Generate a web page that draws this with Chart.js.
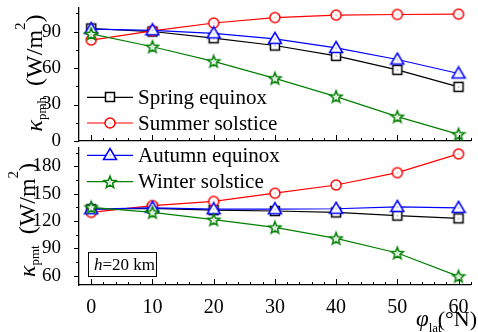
<!DOCTYPE html>
<html>
<head>
<meta charset="utf-8">
<script src="https://cdn.jsdelivr.net/npm/chart.js@4.4.0/dist/chart.umd.min.js"></script>
<style>
  html, body { margin: 0; padding: 0; background: #fff; }
  #wrap { position: relative; width: 478px; height: 332px; overflow: hidden; }
  #wrap canvas { position: absolute; left: 0; top: 0; }
</style>
</head>
<body>
<div id="wrap">
  <canvas id="bottomChart" width="478" height="332"></canvas>
  <canvas id="topChart" width="478" height="332"></canvas>
</div>
<script>
// latitude (°N)
const latitudes = [0, 10, 20, 30, 40, 50, 60];
const seasons = ["Spring equinox", "Summer solstice", "Autumn equinox", "Winter solstice"];

// kappa_pmh (W/m2), top panel
const pmhSpring = [92.5, 90, 84.5, 78.5, 70, 58.5, 44.5];
const pmhSummer = [83, 90.5, 97, 101.5, 103.5, 104, 104.3];
const pmhAutumn = [92, 91, 88.5, 84, 76.5, 67, 55.5];
const pmhWinter = [88, 77.5, 65.5, 51.5, 36.5, 20, 5.5];

// kappa_pmt (W/m2), bottom panel
const pmtSpring = [133, 134, 132, 131, 129.5, 126, 123];
const pmtSummer = [129.5, 137, 141.5, 150.5, 159.5, 173, 193.5];
const pmtAutumn = [133, 134.5, 133, 133, 133.5, 135.5, 134.5];
const pmtWinter = [135, 129.5, 121.5, 113, 101, 85, 59.5];

const xTicks = [0, 10, 20, 30, 40, 50, 60];
const pmhTicks = [0, 30, 60, 90];
const pmtTicks = [60, 90, 120, 150, 180];

const FONT = "'Liberation Serif', 'Times New Roman', serif";
Chart.defaults.font.family = FONT;
Chart.defaults.color = "#000";

const colors = ["#000000", "#ff0000", "#0000ff", "#008000"];
const shapes = ["square", "circle", "triangle", "star"];

function makeMarker(shape, color) {
  const c = document.createElement("canvas");
  c.width = 16; c.height = 16;
  const g = c.getContext("2d");
  g.strokeStyle = color;
  g.fillStyle = "#fff";
  g.lineWidth = 1.5;
  g.beginPath();
  if (shape === "square") {
    g.rect(3.5, 3.5, 9, 9);
  } else if (shape === "circle") {
    g.arc(8, 8, 5, 0, Math.PI * 2);
  } else if (shape === "triangle") {
    g.moveTo(8, 1.5); g.lineTo(14.5, 12.5); g.lineTo(1.5, 12.5); g.closePath();
  } else {
    for (let i = 0; i < 10; i++) {
      const r = i % 2 ? 2.7 : 6.3;
      const a = -Math.PI / 2 + i * Math.PI / 5;
      const px = 8 + r * Math.cos(a), py = 8.5 + r * Math.sin(a);
      i ? g.lineTo(px, py) : g.moveTo(px, py);
    }
    g.closePath();
  }
  g.fill();
  g.stroke();
  g.globalAlpha = 0.5;
  g.fillStyle = color;
  g.fillRect(7.5, 7.5, 1.2, 1.2);
  return c;
}
const markers = shapes.map((s, i) => makeMarker(s, colors[i]));

function makeSets(series) {
  return series.map((vals, i) => ({
    label: seasons[i],
    data: latitudes.map((x, j) => ({ x: x, y: vals[j] })),
    borderColor: colors[i],
    borderWidth: 1.2,
    pointStyle: markers[i],
    pointRadius: 6,
    tension: 0,
    clip: false,
    order: 3 - i
  }));
}

function drawYTitle(ctx, sub, bx, cy) {
  const parts = [
    { t: "κ", f: "italic 24px " + FONT, dy: 0, gap: 0 },
    { t: sub, f: "13px " + FONT, dy: 4, gap: 0 },
    { t: "(W/m", f: "24px " + FONT, dy: 0, gap: 11 },
    { t: "2", f: "15px " + FONT, dy: -17, gap: 0 },
    { t: ")", f: "24px " + FONT, dy: 0, gap: 0 }
  ];
  let total = 0;
  parts.forEach(p => { ctx.font = p.f; total += p.gap + ctx.measureText(p.t).width; });
  ctx.save();
  ctx.translate(bx, cy);
  ctx.rotate(-Math.PI / 2);
  ctx.fillStyle = "#000";
  ctx.textBaseline = "alphabetic";
  let x = -total / 2;
  parts.forEach(p => {
    ctx.font = p.f;
    x += p.gap;
    ctx.fillText(p.t, x, p.dy);
    x += ctx.measureText(p.t).width;
  });
  ctx.restore();
}

const decor = {
  id: "decor",
  afterDraw(chart, args, o) {
    const { ctx, chartArea: a } = chart;
    const xs = chart.scales.x, ys = chart.scales.y;
    ctx.save();
    ctx.strokeStyle = "#000";
    ctx.lineWidth = 1;
    // x ticks, pointing inside
    for (let v = 0; v <= xs.max; v += 2) {
      const px = Math.round(xs.getPixelForValue(v)) + 0.5;
      const len = v % 10 === 0 ? 6 : 3;
      ctx.beginPath(); ctx.moveTo(px, a.bottom); ctx.lineTo(px, a.bottom - len); ctx.stroke();
    }
    // y ticks, pointing outside
    for (let v = Math.ceil(ys.min / 15) * 15; v <= ys.max; v += 15) {
      const py = Math.round(ys.getPixelForValue(v)) + 0.5;
      const len = v % 30 === 0 ? 5 : 3;
      ctx.beginPath(); ctx.moveTo(a.left, py); ctx.lineTo(a.left - len, py); ctx.stroke();
    }
    // legend rows
    o.legend.forEach(row => {
      const ds = chart.data.datasets[row.index];
      ctx.strokeStyle = ds.borderColor;
      ctx.lineWidth = 1.2;
      ctx.beginPath(); ctx.moveTo(o.legendX, row.y); ctx.lineTo(o.legendX + 46, row.y); ctx.stroke();
      ctx.drawImage(ds.pointStyle, Math.round(o.legendX + 23 - 8), Math.round(row.y - 8));
      ctx.fillStyle = "#000";
      ctx.font = "21px " + FONT;
      ctx.textAlign = "left";
      ctx.textBaseline = "alphabetic";
      ctx.fillText(ds.label, o.legendX + 51, row.y + 6.5);
    });
    drawYTitle(ctx, o.sub, o.titleX, o.titleY);
    if (o.box) {
      ctx.strokeStyle = "#000";
      ctx.lineWidth = 1;
      ctx.strokeRect(88.5, 252.5, 68, 24);
      ctx.fillStyle = "#000";
      ctx.textBaseline = "alphabetic";
      ctx.font = "italic 17px " + FONT;
      ctx.fillText("h", 94, 270);
      const hw = ctx.measureText("h").width;
      ctx.font = "17px " + FONT;
      ctx.fillText("=20 km", 94 + hw, 270);
      // x title
      ctx.font = "italic 23px " + FONT;
      ctx.fillText("φ", 416, 326);
      const pw = ctx.measureText("φ").width;
      ctx.font = "13px " + FONT;
      ctx.fillText("lat", 416 + pw, 332);
      ctx.font = "22px " + FONT;
      ctx.textAlign = "right";
      ctx.fillText("(°N)", 477, 326);
    }
    ctx.restore();
  }
};

function panel(id, series, yMin, yMax, yTicks, pad, xHeight, showX, decorOpts) {
  return new Chart(document.getElementById(id), {
    type: "line",
    data: { datasets: makeSets(series) },
    plugins: [decor],
    options: {
      responsive: false,
      animation: false,
      events: [],
      layout: { padding: pad },
      plugins: { legend: { display: false }, tooltip: { enabled: false }, decor: decorOpts },
      scales: {
        x: {
          type: "linear",
          min: -2,
          max: 62,
          grid: { display: false },
          border: { color: "#000", width: 1.3 },
          afterBuildTicks: s => { s.ticks = xTicks.map(v => ({ value: v })); },
          ticks: { display: showX, autoSkip: false, maxRotation: 0, padding: 3, font: { size: 20 } },
          afterFit: s => { s.height = xHeight; s.paddingLeft = 0; s.paddingRight = 0; }
        },
        y: {
          min: yMin,
          max: yMax,
          grid: { display: false },
          border: { color: "#000", width: 1.3 },
          afterBuildTicks: s => { s.ticks = yTicks.map(v => ({ value: v })); },
          ticks: { padding: 10, font: { size: 19 } },
          afterFit: s => { s.width = 79; s.paddingTop = 0; s.paddingBottom = 0; }
        }
      }
    }
  });
}

panel("topChart", [pmhSpring, pmhSummer, pmhAutumn, pmhWinter], 0, 110, pmhTicks,
  { top: 5, bottom: 191, left: 0, right: 0 }, 0, false,
  { legendX: 87, legend: [{ index: 0, y: 97.3 }, { index: 1, y: 123 }], sub: "pmh", titleX: 42, titleY: 73, box: false });

panel("bottomChart", [pmtSpring, pmtSummer, pmtAutumn, pmtWinter], 50, 200, pmtTicks,
  { top: 148, bottom: 0, left: 0, right: 0 }, 47, true,
  { legendX: 87, legend: [{ index: 2, y: 155.3 }, { index: 3, y: 181.7 }], sub: "pmt", titleX: 35, titleY: 220, box: true });
</script>
</body>
</html>
